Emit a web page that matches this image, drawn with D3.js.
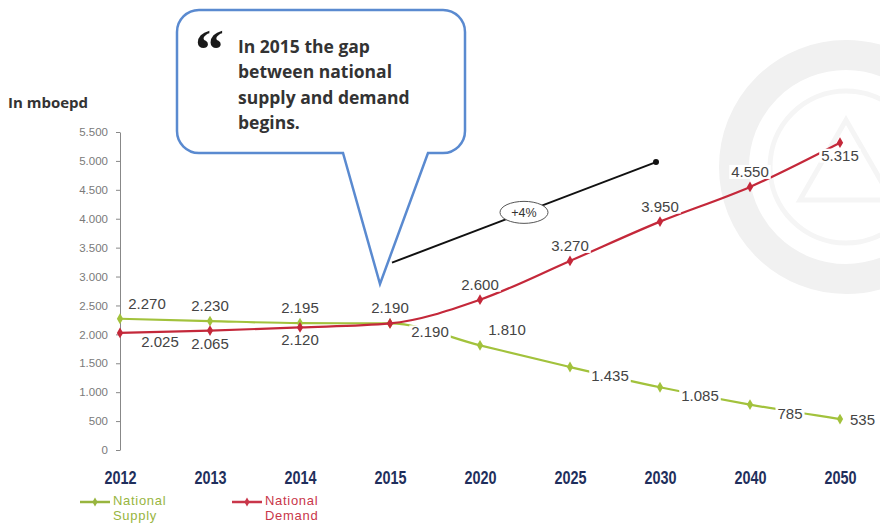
<!DOCTYPE html>
<html>
<head>
<meta charset="utf-8">
<script src="https://cdn.jsdelivr.net/npm/d3@7"></script>
<style>
  body { margin: 0; background: #fff; }
  svg { display: block; }
  .ylab { font-family: "Liberation Sans", Arial, sans-serif; font-size: 11.5px; fill: #7a7a7a; }
  .xlab { font-family: "Liberation Sans", Arial, sans-serif; font-weight: bold; font-size: 18px; fill: #1f2f5c; }
  .val { font-family: "Liberation Sans", Arial, sans-serif; font-size: 15px; fill: #444; }
  .callout { font-family: "Open Sans", sans-serif; font-weight: bold; font-size: 17.5px; fill: #333; }
  .legend { font-family: "Liberation Sans", Arial, sans-serif; font-size: 13px; letter-spacing: 0.7px; }
</style>
</head>
<body>
<svg id="chart" width="880" height="524"></svg>
<script>
const categories = ["2012", "2013", "2014", "2015", "2020", "2025", "2030", "2040", "2050"];
const supply = [2270, 2230, 2195, 2190, 1810, 1435, 1085, 785, 535];
const demand = [2025, 2065, 2120, 2190, 2600, 3270, 3950, 4550, 5315];
const yTicks = [0, 500, 1000, 1500, 2000, 2500, 3000, 3500, 4000, 4500, 5000, 5500];

// where each value label sits relative to its point
const supplyLabelPos = ["aboveR", "above", "above", "belowR", "aboveR", "belowR", "belowR", "belowR", "right"];
const demandLabelPos = ["belowR", "below", "below", "above", "above", "above", "above", "above", "below"];

const green = "#a2c23c";
const red = "#c4283a";

const svg = d3.select("#chart");
const fmt = d3.formatLocale({decimal: ",", thousands: ".", grouping: [3], currency: ["", ""]}).format(",d");

const x = d3.scalePoint().domain(categories).range([120, 840]);
const y = d3.scaleLinear().domain([0, 5500]).range([450, 132]);

// faint watermark emblem
let wm = svg.append("g").attr("fill", "none");
wm.append("circle").attr("cx", 846).attr("cy", 167).attr("r", 112)
  .attr("stroke", "#f1f1f1").attr("stroke-width", 30);
wm.append("circle").attr("cx", 846).attr("cy", 167).attr("r", 76)
  .attr("stroke", "#f5f5f5").attr("stroke-width", 5);
wm.append("path").attr("d", "M800,200 L846,120 L892,200 Z")
  .attr("stroke", "#f5f5f5").attr("stroke-width", 5);

// y axis
let yAxis = svg.append("g")
  .attr("transform", "translate(120,0)")
  .call(d3.axisLeft(y).tickValues(yTicks).tickFormat(fmt).tickSize(4).tickSizeOuter(0).tickPadding(8));
yAxis.select(".domain").attr("stroke", "#888");
yAxis.selectAll(".tick line").attr("stroke", "#888");
yAxis.selectAll("text").attr("class", "ylab").attr("fill", null);

svg.append("text")
  .text("In mboepd")
  .attr("x", 8).attr("y", 108)
  .style("font-family", "'Open Sans', sans-serif")
  .style("font-weight", "bold")
  .style("font-size", "15px")
  .style("fill", "#333");

// x axis labels (squeezed to look like a narrow face)
let xAxis = svg.append("g")
  .attr("transform", "translate(0,450)")
  .call(d3.axisBottom(x).tickSize(0));
xAxis.select(".domain").remove();
xAxis.selectAll("text")
  .attr("class", "xlab")
  .attr("fill", null)
  .attr("y", 34).attr("dy", 0)
  .attr("transform", "scale(0.8,1)");

// callout bubble
const bx0 = 177, by0 = 10, bx1 = 465, by1 = 153, r = 22;
svg.append("path")
  .attr("d", `M${bx0 + r},${by0} H${bx1 - r} A${r},${r} 0 0 1 ${bx1},${by0 + r} V${by1 - r}
    A${r},${r} 0 0 1 ${bx1 - r},${by1} H428 L380,284 L343,${by1} H${bx0 + r}
    A${r},${r} 0 0 1 ${bx0},${by1 - r} V${by0 + r} A${r},${r} 0 0 1 ${bx0 + r},${by0} Z`)
  .attr("fill", "#fff")
  .attr("stroke", "#5a8ad0")
  .attr("stroke-width", 2.5);

svg.append("text")
  .text("\u201C")
  .attr("x", 195).attr("y", 69)
  .style("font-family", "'Liberation Serif', serif")
  .style("font-weight", "bold")
  .style("font-size", "58px")
  .style("fill", "#1a1a1a");

const calloutLines = ["In 2015 the gap", "between national", "supply and demand", "begins."];
svg.append("g").selectAll("text")
  .data(calloutLines)
  .join("text")
  .attr("class", "callout")
  .attr("x", 238)
  .attr("y", (d, i) => 53 + i * 25.4)
  .text(d => d);

// growth arrow with +4% badge
const gStart = [x("2015") + 2, y(3240)];
const gEnd = [x("2030") - 4, y(4980)];
svg.append("line")
  .attr("x1", gStart[0]).attr("y1", gStart[1])
  .attr("x2", gEnd[0]).attr("y2", gEnd[1])
  .attr("stroke", "#111").attr("stroke-width", 2);
svg.append("circle").attr("cx", gEnd[0]).attr("cy", gEnd[1]).attr("r", 3).attr("fill", "#111");
const mid = [(gStart[0] + gEnd[0]) / 2, (gStart[1] + gEnd[1]) / 2];
svg.append("ellipse")
  .attr("cx", mid[0]).attr("cy", mid[1]).attr("rx", 24).attr("ry", 11)
  .attr("fill", "#fff").attr("stroke", "#555").attr("stroke-width", 1);
svg.append("text")
  .text("+4%")
  .attr("x", mid[0]).attr("y", mid[1] + 4.5)
  .style("text-anchor", "middle")
  .style("font-family", "'Liberation Sans', Arial, sans-serif")
  .style("font-size", "12.5px")
  .style("fill", "#333");

// series lines
const line = d3.line()
  .x((d, i) => x(categories[i]))
  .y(d => y(d))
  .curve(d3.curveMonotoneX);

const off = {
  above: [0, -10, "middle"],
  aboveR: [27, -10, "middle"],
  below: [0, 18, "middle"],
  belowR: [40, 14, "middle"],
  right: [10, 6, "start"]
};

function drawSeries(values, color, placement) {
  let g = svg.append("g");
  g.append("path")
    .datum(values)
    .attr("d", line)
    .attr("fill", "none")
    .attr("stroke", color)
    .attr("stroke-width", 2.2);

  g.selectAll("path.pt")
    .data(values)
    .join("path")
    .classed("pt", true)
    .attr("d", d3.symbol(d3.symbolDiamond, 34))
    .attr("transform", (d, i) => `translate(${x(categories[i])},${y(d)})`)
    .attr("fill", color);

  let labels = g.selectAll("g.lab")
    .data(values)
    .join("g")
    .classed("lab", true);

  labels.append("text")
    .attr("class", "val")
    .attr("x", (d, i) => x(categories[i]) + off[placement[i]][0])
    .attr("y", (d, i) => y(d) + off[placement[i]][1])
    .style("text-anchor", (d, i) => off[placement[i]][2])
    .text(d => fmt(d));

  // white box behind each label so the line breaks around it
  labels.each(function() {
    let t = d3.select(this).select("text");
    let b = t.node().getBBox();
    d3.select(this).insert("rect", "text")
      .attr("x", b.x - 2).attr("y", b.y + 2)
      .attr("width", b.width + 4).attr("height", b.height - 3)
      .attr("fill", "#fff");
  });
}

drawSeries(supply, green, supplyLabelPos);
drawSeries(demand, red, demandLabelPos);

// legend
function legendItem(x0, color, lines) {
  let g = svg.append("g");
  g.append("line")
    .attr("x1", x0).attr("x2", x0 + 30)
    .attr("y1", 502).attr("y2", 502)
    .attr("stroke", color).attr("stroke-width", 2.5);
  g.append("path")
    .attr("d", d3.symbol(d3.symbolDiamond, 24))
    .attr("transform", `translate(${x0 + 15},502)`)
    .attr("fill", color);
  g.selectAll("text")
    .data(lines)
    .join("text")
    .attr("class", "legend")
    .attr("x", x0 + 33)
    .attr("y", (d, i) => 505 + i * 15)
    .style("fill", color)
    .text(d => d);
}

legendItem(80, "#98b53f", ["National", "Supply"]);
legendItem(232, "#c9364a", ["National", "Demand"]);
</script>
</body>
</html>
